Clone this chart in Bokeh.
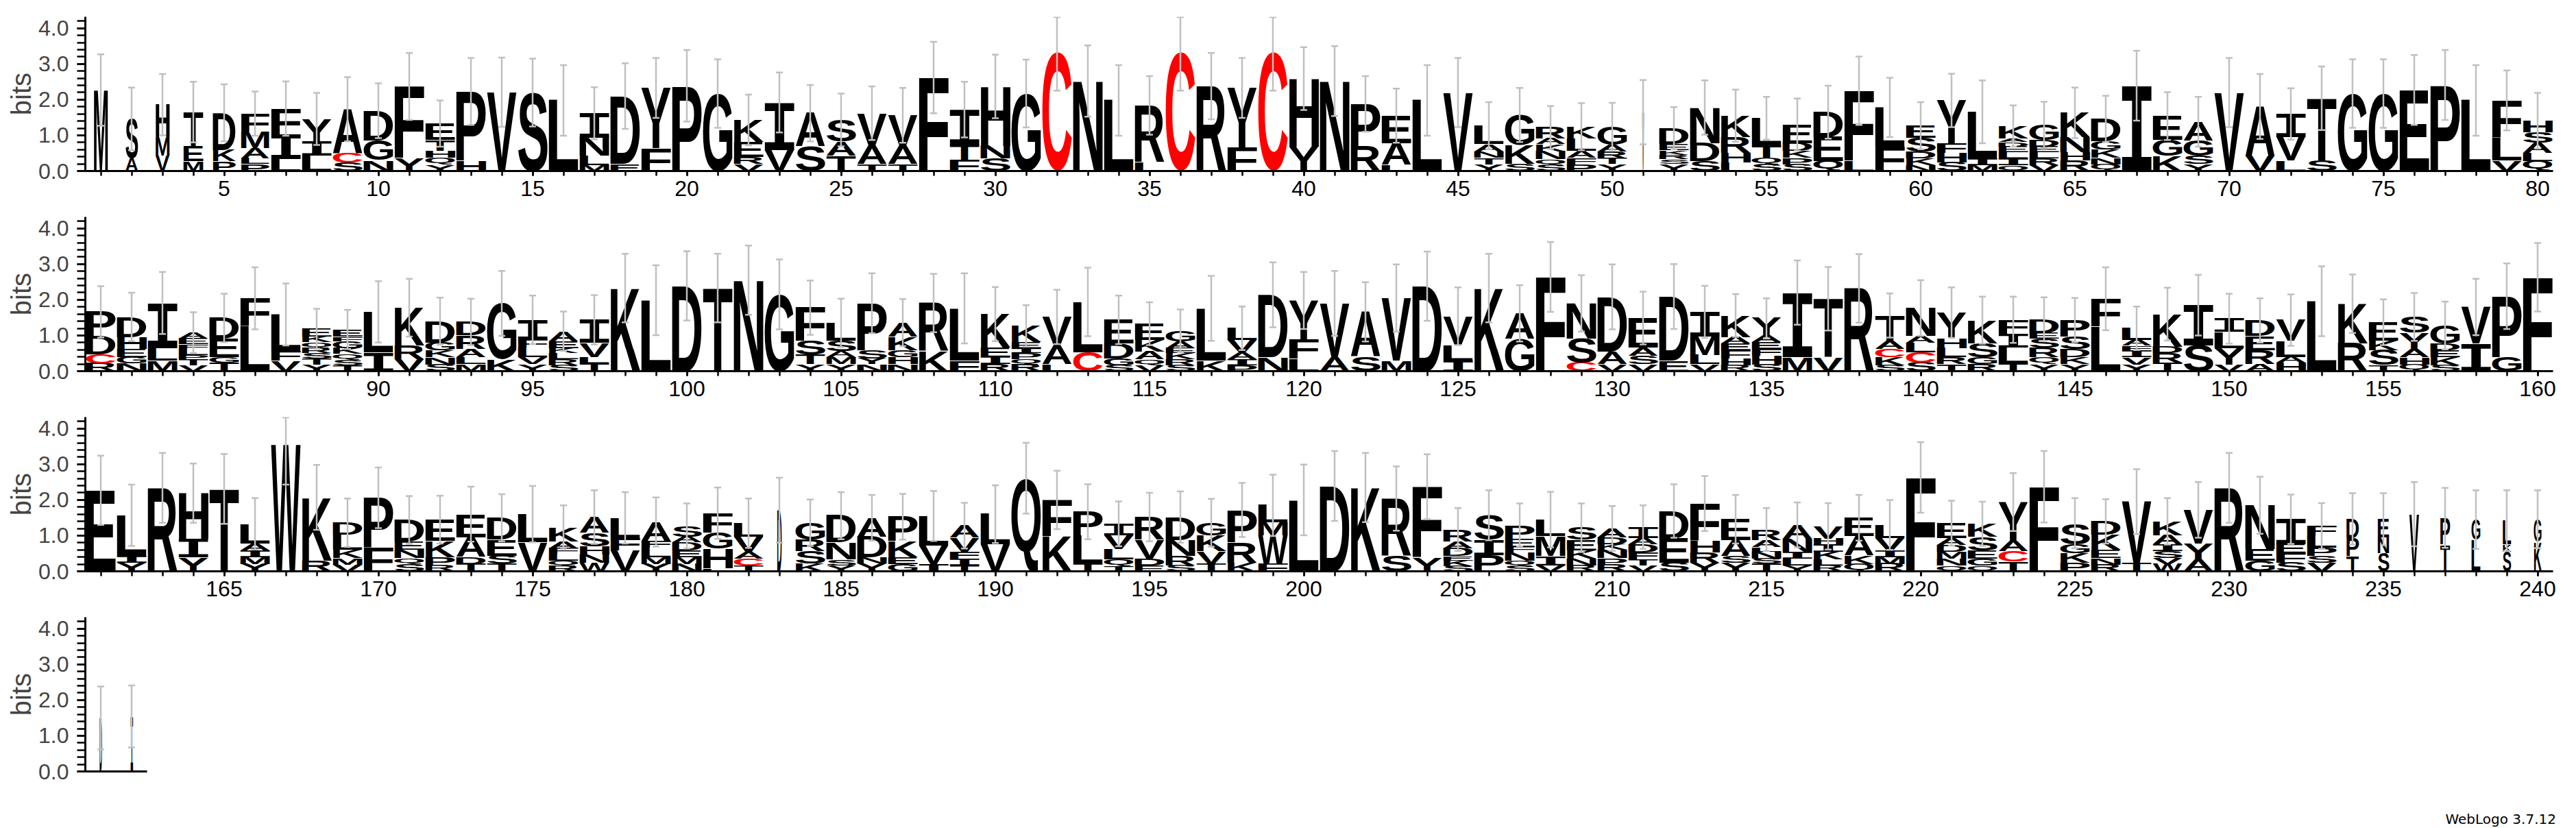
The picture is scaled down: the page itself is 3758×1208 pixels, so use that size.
import json
import numpy as np
from bokeh.plotting import figure
from bokeh.models import (ColumnDataSource, SingleIntervalTicker, Range1d, PrintfTickFormatter, Div)
from bokeh.layouts import column
from bokeh.embed import file_html
from bokeh.resources import INLINE

# ---------------- data (letter stacks bottom -> top, heights in bits) ----------------
stacks_row1 = [
    "M2.27", "A.36 S1.1", "V.43 M.5 H.93", "M.27 E.42 T.96", "P.27 K.32 D1.04",
    "P.2 L.16 A.29 M.46 F.5", "L.33 I.68 F.74", "L.43 I.39 Y.64", "S.23 C.27 A1.23", "N.3 G.55 D.84",
    "Y.37 F2.0", "Y.17 Q.2 H.2 T.3 E.46", "H.3 P1.93", "V2.21", "S2.2",
    "L1.98", "M.17 L.26 N.51 I.68", "E.2 D1.9", "F.64 Y1.69", "P2.39",
    "G2.17", "V.2 R.19 E.42 K.62", "V.59 I1.33", "S.69 A.93", "T.43 A.39 S.61",
    "T.2 A.51 V.91", "T.2 A.51 V.85", "F2.62", "F.31 T.41 I1.0", "S.35 N.36 H1.66",
    "G2.17", "C3.33", "N2.52", "L1.98", "L.25 R1.59",
    "C3.33", "R2.38", "F.66 Y1.67", "C3.33", "Y.69 H1.9",
    "N2.52", "R.69 P1.19", "L.17 A.61 E.77", "L1.98", "V2.2",
    "Y.19 T.18 N.18 A.2 L.52", "S.2 K.52 G.85", "S.17 Q.16 N.22 K.2 A.16 R.31",
    "P.19 F.18 A.19 L.35 K.33", "Y.2 T.16 R.19 A.19 G.51",
    "V1.65", "Y.2 S.13 R.13 K.13 E.16 D.45", "S.27 D.51 N1.0", "L.24 H.26 R.45 K.6", "S.19 Q.18 T.35 L.76",
    "S.19 P.18 K.19 D.22 E.52", "Q.27 E.68 D.7", "L.3 F1.95", "F.68 L1.1", "N.17 K.19 D.19 S.39 E.33",
    "S.24 H.26 F.26 Y1.22", "M.17 I.19 L1.3", "Q.17 I.19 L.16 E.16 D.13 A.1 K.35",
    "V.17 R.19 L.16 E.16 D.19 G.42", "R.3 H.23 N.42 K.68",
    "Q.19 N.18 K.23 G.23 D.63", "I2.39", "K.43 G.45 E.66", "Y.2 S.23 G.42 A.53", "V2.2",
    "V.43 A1.38", "L.3 V.65 I.65", "S.3 T1.74", "G2.17", "G2.17",
    "E2.27", "P2.41", "L1.98", "V.3 L.64 F1.04", "Q.27 L.23 A.29 S.29 H.33",
]
stacks_row2 = [
    "R.21 C.26 D.51 P.68", "N.21 G.19 E.23 H.32 D.57", "M.3 L.35 I1.26",
    "V.17 T.16 P.13 L.16 F.13 E.16 A.17", "T.24 G.16 E.51 D.58",
    "L1.27 F.77", "V.3 F.26 L1.03", "Y.19 T.17 S.15 R.14 Q.16 K.16 E.22",
    "T.17 S.16 Q.16 K.16 G.19 F.13 E.2", "I.53 L1.13",
    "V.33 R.39 K1.06", "S.19 N.2 K.19 G.22 D.6", "M.2 L.2 A.23 R.37 D.38", "K.33 G1.57",
    "Y.2 V.2 L.26 F.22 I.56",
    "S.17 R.16 L.18 K.14 E.19 A.28", "T.22 L.18 V.39 I.65", "K2.33", "L1.99", "D2.39",
    "T2.33", "N2.55", "G2.15", "Y.2 T.26 S.39 F.93", "Y.2 M.2 A.16 S.29 L.5",
    "N.2 Y.16 S.22 P1.32", "N.2 H.2 G.19 K.37 A.4", "K.56 R1.35", "F.3 L1.46", "R.2 I.2 E.26 K.94",
    "R.19 Q.15 P.16 I.15 E.16 K.46", "L.2 A.52 V.8", "C.53 L1.41", "S.17 G.19 D.42 E.66",
    "V.17 Q.16 A.22 K.32 E.46",
    "S.17 R.16 K.18 E.14 A.19 G.29", "K.3 L1.46", "P.17 I.16 A.19 V.35 L.33", "N.4 D1.74",
    "L.35 F.55 Y1.08",
    "A.4 V1.5", "S.4 A1.26", "M.3 V1.75", "D2.38", "I.3 L.42 V.82",
    "K2.33", "G.91 A.71", "F2.64", "C.24 S.68 N.98", "V.2 A.35 D1.53",
    "V.2 S.23 A.23 E.83", "E.3 D1.79", "V.2 L.26 M.51 I.69", "R.17 H.19 F.22 E.19 A.19 K.6",
    "S.19 H.24 F.19 E.19 A.19 Y.48",
    "M.4 I1.8", "V.4 T1.63", "R2.32", "S.17 K.23 C.23 A.23 T.7", "S.24 C.29 L.26 A.19 N.79",
    "T.2 R.19 L.26 H.26 Y.73", "R.2 G.19 S.39 K.65", "T.22 L.44 I.38 F.4",
    "Y.2 Q.19 R.26 S.26 E.16 D.39", "Y.2 K.19 D.23 S.35 P.46",
    "L1.26 F.77", "Y.19 V.2 I.19 F.13 A.16 L.33", "T.24 R.26 D.19 K.91", "S.72 I1.13",
    "V.19 Y.46 L.45 I.37",
    "A.2 R.39 E.39 D.44", "H.24 A.16 L.45 V.58", "L1.96", "R.78 K1.11", "T.17 S.42 K.26 E.52",
    "Q.19 H.2 A.23 Y.45 S.45", "S.17 K.23 E.19 D.19 G.5", "I.78 V1.02", "G.4 P1.7", "F2.63",
]
stacks_row3 = [
    "E2.27", "Y.24 I.19 L1.14", "R2.34", "Y.4 I.51 H1.28", "T2.31",
    "Y.21 M.19 I.19 A.19 L.55", "W3.55", "R.3 K1.77", "V.19 M.18 K.23 L.42 D.34", "F.66 P1.4",
    "S.21 Q.16 N.23 E.23 D.61", "R.17 P.23 K.45 E.6", "T.21 D.19 A.55 E.65", "T.21 S.23 E.45 D.61",
    "V.82 L.78",
    "R.14 Q.16 L.19 F.16 A.19 K.4", "W.24 N.23 H.23 S.38 A.44", "V.59 F.35 L.56",
    "Y.21 M.19 L.26 F.19 A.53", "N.21 M.19 E.19 D.22 A.16 S.3",
    "L.08 H.55 G.45 F.55", "T.17 C.19 A.19 V.42 L.38", "D1.71", "K.21 S.35 R.32 G.48",
    "Y.17 S.16 N.48 D.75",
    "Y.22 N.17 D.58 A.53", "G.21 E.19 K.45 P.68", "I.21 V.51 L.83", "T.17 I.19 F.19 V.39 A.34",
    "V.75 L.85",
    "Q2.61", "K.98 F1.02", "T.21 L.8 P.66", "T.14 Q.19 L.29 V.39 I.32", "E.17 D.19 V.52 R.64",
    "S.17 R.26 N.45 D.64", "T.21 V.35 K.45 G.35", "K.24 R.58 P.9", "F.21 W.8 M.36 L.48", "L2.0",
    "D2.39", "K2.35", "S.43 R1.61", "Y.4 F1.97", "S.14 K.16 E.13 D.22 A.19 R.33",
    "P.46 I.42 S.69", "S.14 Q.16 N.22 F.16 E.22 P.4", "V.17 I.26 M.55 L.47",
    "R.17 N.19 K.23 E.29 S.34", "R.19 P.18 N.23 K.16 D.19 A.25",
    "V.17 T.16 F.19 D.23 A.19 I.3", "S.24 E.68 D.77", "Y.24 R.29 H.32 F1.05", "Y.24 S.19 A.45 E.58",
    "T.22 S.14 N.19 L.13 A.19 R.3",
    "Y.17 L.19 I.18 N.37 A.39", "R.17 L.16 K.21 I.21 H.16 V.35", "Q.21 K.23 A.55 E.51",
    "R.21 M.19 I.19 V.35 L.36", "F2.63",
    "Q.17 N.19 M.19 D.19 A.19 E.42", "Q.17 G.19 E.23 S.38 K.36", "T.27 C.29 A.29 Y1.09", "F2.37",
    "P.24 K.26 G.26 S.59",
    "R.19 N.18 E.23 K.42 D.38", "T.24 V1.71", "W.21 V.16 S.19 I.19 A.26 K.39", "A.33 Y.45 V.94",
    "R2.34",
    "G.3 E.32 N1.23", "S.24 F.26 E.26 I.7", "V.24 S.19 P.23 L.35 F.26", "T.43 P.5 D.54",
    "S.5 N.45 E.51",
    "V1.6", "T.75 P.75", "L.88 G.57", "S.55 K.2 L.67", "K.82 G.64",
]
stacks_row4 = ["D1.5", "I1.54"]

# half-length of the error bars (bits)
err_row1 = [1.0, .88, .86, .85, .8, .62, .76, .73, .9, .77,
            .94, .65, .94, .97, .95, .99, .73, .92, .84, 1.0,
            .96, .71, .84, .79, .74, .75, .77, 1.0, .78, .89,
            .95, 1.08, 1.0, .99, .82, 1.08, .93, .84, 1.08, .88,
            .98, .78, .76, .99, .97, .66, .76, .6, .66, .66,
            .9, .59, .76, .73, .6, .73, .74, .96, .83, .66,
            .75, .88, .58, .65, .71, .65, .98, .67, .7, .97,
            .91, .72, .89, .96, .96, .98, .98, .99, .84, .78]
err_row2 = [.72, .68, .87, .57, .68, .87, .87, .56, .55, .86,
            .81, .66, .65, .91, .68, .55, .69, .96, .98, .97,
            .96, .97, .98, .76, .68, .84, .66, .82, .98, .76,
            .58, .76, .96, .68, .6, .6, .91, .61, .91, .8,
            .91, .83, .94, .97, .81, .96, .79, .98, .79, .91,
            .74, .91, .73, .6, .56, .9, .89, .96, .62, .78,
            .71, .66, .65, .61, .62, .88, .61, .74, .85, .7,
            .62, .72, .98, .82, .64, .67, .67, .79, .92, .96]
err_row3 = [.97, .86, .98, .83, .98, .72, 1.12, .91, .68, .85,
            .67, .67, .77, .66, .79, .61, .75, .72, .69, .63,
            .72, .69, .91, .65, .66, .64, .64, .7, .64, .81,
            .99, .82, .77, .63, .68, .72, .67, .76, .86, .99,
            .98, .97, .9, .91, .6, .7, .6, .78, .68, .63,
            .61, .75, .77, .68, .6, .63, .65, .64, .7, .99,
            .63, .62, .81, 1.0, .7, .62, .91, .65, .78, .98,
            .8, .69, .64, .72, .73, .9, .84, .82, .85, .81]
err_row4 = [.88, .87]

# fraction of the full stack width (columns with many gaps are narrower)
narrow_positions = [1, 2, 3, 4, 5, 6, 51, 183, 234, 235, 236, 237, 238, 239, 240, 241, 242]
narrow_widths = [.47, .42, .47, .67, .77, .95, .06, .15, .42, .38, .33, .33, .3, .28, .26, .08, .08]

# ---------------- geometry / style ----------------
YMAX = float(np.log2(20))
FRAME_W, FRAME_H = 3600, 225
PPB = FRAME_H / YMAX
INK_W = 43.0
width_of = dict(zip(narrow_positions, narrow_widths))
FONT = "Liberation Sans"
LETTER_DATA = []


def parse(stack):
    return [(tok[0], float(tok[1:])) for tok in stack.split()]


def build_row(stacks, errs, start, xr, top=16, bottom=51, last=False):
    lx, ly, lt, lcol = [], [], [], []
    hpx_list, wpx_list, fam_list = [], [], []
    ex, elo, ehi = [], [], []
    for i, (st, e) in enumerate(zip(stacks, errs)):
        pos = start + i
        w = width_of.get(pos, 1.0)
        y = 0.0
        for letter, h in parse(st):
            hpx = h * PPB
            if hpx >= 0.6:
                lx.append(pos)
                ly.append(y)
                lt.append(letter)
                lcol.append("#ff0000" if letter == "C" else "#000000")
                hpx_list.append(round(hpx, 2))
                wpx_list.append(round(w * INK_W, 2))
                fam_list.append("Liberation Mono" if letter == "I" else FONT)
            y += h
        ex.append(pos)
        elo.append(max(y - e, 0.0))
        ehi.append(min(y + e, YMAX - 0.012))
    LETTER_DATA.append(dict(letters="".join(lt), H=hpx_list, W=wpx_list, F=fam_list))

    p = figure(x_range=Range1d(*xr), y_range=Range1d(0, YMAX),
               frame_width=FRAME_W, frame_height=FRAME_H,
               min_border_left=124, min_border_right=18, min_border_top=top,
               min_border_bottom=bottom,
               output_backend="svg", toolbar_location=None,
               background_fill_color="white", border_fill_color="white")
    p.outline_line_color = None
    p.xgrid.visible = False
    p.ygrid.visible = False

    src = ColumnDataSource(dict(x=lx, y=ly, t=lt, col=lcol))
    p.text(x="x", y="y", text="t", source=src, text_font_size="4px",
           text_font=FONT, text_font_style="bold", text_color="col",
           text_align="center", text_baseline="middle")

    esrc = ColumnDataSource(dict(x=ex, lo=elo, hi=ehi))
    p.segment(x0="x", y0="lo", x1="x", y1="hi", source=esrc, line_color="#c0c0c0", line_width=2.5)
    p.scatter(x="x", y="lo", source=esrc, marker="dash", size=10, line_color="#c0c0c0", line_width=2.5)
    p.scatter(x="x", y="hi", source=esrc, marker="dash", size=10, line_color="#c0c0c0", line_width=2.5)

    xa = p.xaxis[0]
    xa.ticker = SingleIntervalTicker(interval=5, num_minor_ticks=5)
    xa.axis_line_width = 3
    xa.major_tick_line_width = 2.5
    xa.minor_tick_line_width = 2.5
    xa.major_tick_in = 0
    xa.minor_tick_in = 0
    xa.major_tick_out = 7
    xa.minor_tick_out = 7
    xa.major_label_standoff = 7
    xa.major_label_text_font = FONT
    xa.major_label_text_font_size = "32px"
    xa.major_label_text_color = "black"
    if last:
        xa.bounds = (240.5, 242.5)

    ya = p.yaxis[0]
    ya.ticker = SingleIntervalTicker(interval=1, num_minor_ticks=5)
    ya.formatter = PrintfTickFormatter(format="%.1f")
    ya.axis_line_width = 3
    ya.major_tick_line_width = 2.5
    ya.minor_tick_line_width = 2.5
    ya.major_tick_in = 0
    ya.minor_tick_in = 0
    ya.major_tick_out = 12
    ya.minor_tick_out = 12
    ya.major_label_standoff = 12
    ya.major_label_text_font = FONT
    ya.major_label_text_font_size = "32px"
    ya.axis_label = "bits"
    ya.axis_label_text_font = FONT
    ya.axis_label_text_font_size = "40px"
    ya.axis_label_text_font_style = "normal"
    ya.axis_label_standoff = 0
    return p


p1 = build_row(stacks_row1, err_row1, 1, (0.5, 80.5), top=24)
p2 = build_row(stacks_row2, err_row2, 81, (80.5, 160.5))
p3 = build_row(stacks_row3, err_row3, 161, (160.5, 240.5))
p4 = build_row(stacks_row4, err_row4, 241, (240.5, 320.5), bottom=30, last=True)
credit = Div(text="WebLogo 3.7.12", width=3742, height=50,
             styles={"text-align": "right", "font-family": "DejaVu Sans", "font-size": "20px",
                     "line-height": "24px", "padding-top": "23px", "padding-right": "18px",
                     "box-sizing": "border-box", "color": "black"})

layout = column(p1, p2, p3, p4, credit, spacing=0)

JS = r"""
(function () {
var DATA = __DATA__;
var cvs = document.createElement('canvas');
var c2 = cvs.getContext('2d');
var cache = {};
function met(ch, fam) {
  var key = ch + '|' + fam;
  if (cache[key]) return cache[key];
  c2.font = 'bold 200px ' + fam;
  var m = c2.measureText(ch);
  var r = {l: m.actualBoundingBoxLeft, r: m.actualBoundingBoxRight, a: m.actualBoundingBoxAscent, d: m.actualBoundingBoxDescent};
  cache[key] = r;
  return r;
}
function svgs(root, out) {
  var all = root.querySelectorAll('*');
  for (var i = 0; i < all.length; i++) {
    var el = all[i];
    if (el.shadowRoot) svgs(el.shadowRoot, out);
    if (el.localName === 'svg') out.push(el);
  }
}
function isBold(el) {
  var fw = el.getAttribute('font-weight');
  if (!fw) { try { fw = getComputedStyle(el).fontWeight; } catch (e) { fw = ''; } }
  fw = String(fw);
  return fw.indexOf('bold') >= 0 || parseInt(fw) >= 600;
}
function apply(el, H, W, fam) {
  var bb = el.getBBox();
  var cx = bb.x + bb.width / 2;
  var cy = bb.y + bb.height / 2;
  var m = met(el.textContent, fam);
  el.setAttribute('font-family', fam);
  el.setAttribute('font-size', '200px');
  el.setAttribute('font-weight', 'bold');
  el.setAttribute('x', '0');
  el.setAttribute('y', '0');
  el.setAttribute('text-anchor', 'start');
  el.setAttribute('dominant-baseline', 'alphabetic');
  var t0 = el.getAttribute('transform') || '';
  el.setAttribute('transform', t0 + ' translate(' + cx + ',' + cy + ') translate(' + (-W / 2) + ',' + (-H) +
      ') scale(' + (W / (m.l + m.r)) + ',' + (H / (m.a + m.d)) + ') translate(' + m.l + ',' + m.a + ')');
  el.__logo = 1;
}
function filled(el) {
  var f = el.getAttribute('fill');
  return !(f === 'none' || f === 'transparent');
}
function fix() {
  try {
    var list = [];
    svgs(document, list);
    for (var s = 0; s < list.length; s++) {
      var texts = Array.prototype.slice.call(list[s].querySelectorAll('text')).filter(function (t) {
        return !t.__logo && isBold(t);
      });
      if (!texts.length) continue;
      var L = texts.length, k = -1, mode = 0, mult = 1;
      for (var j = 0; j < DATA.length && k < 0; j++) {
        var lt = DATA[j].letters, dl = lt.length;
        if (!dl || L % dl) continue;
        var mu = L / dl, okA = true, okB = true;
        for (var i = 0; i < L; i++) {
          var c = texts[i].textContent;
          if (c !== lt[i % dl]) okA = false;
          if (c !== lt[Math.floor(i / mu)]) okB = false;
        }
        if (okA) { k = j; mode = 1; mult = mu; }
        else if (okB) { k = j; mode = 2; mult = mu; }
      }
      if (k < 0) continue;
      var d = DATA[k], dl2 = d.letters.length;
      var keep = new Array(dl2);
      for (var i2 = 0; i2 < L; i2++) {
        var idx = mode === 1 ? (i2 % dl2) : Math.floor(i2 / mult);
        var el = texts[i2];
        if (!keep[idx] || filled(el) || !filled(keep[idx])) keep[idx] = el;
      }
      for (var i3 = 0; i3 < L; i3++) {
        var idx3 = mode === 1 ? (i3 % dl2) : Math.floor(i3 / mult);
        var e3 = texts[i3];
        if (keep[idx3] === e3) apply(e3, d.H[idx3], d.W[idx3], d.F[idx3]);
        else { e3.__logo = 1; if (e3.parentNode) e3.parentNode.removeChild(e3); }
      }
    }
  } catch (e) { }
}
var n = 0;
var iv = setInterval(function () { fix(); if (++n > 200) clearInterval(iv); }, 50);
})();
"""

html = file_html(layout, INLINE, "WebLogo")
script = "<script>" + JS.replace("__DATA__", json.dumps(LETTER_DATA)) + "</script>\n"
html = html.replace("</body>", script + "</body>")
open("out.html", "w").write(html)
